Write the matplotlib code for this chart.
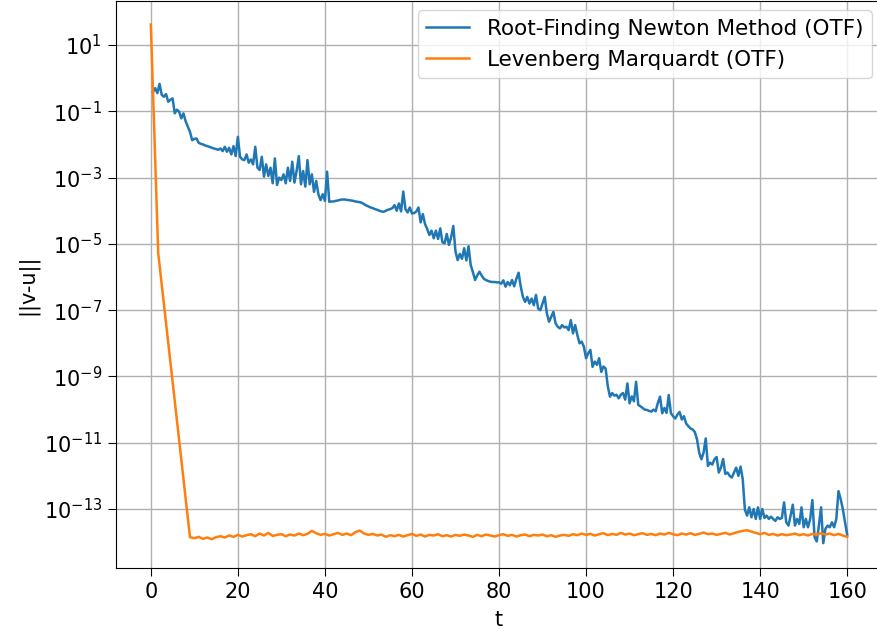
import numpy as np
import matplotlib
matplotlib.use("Agg")
import matplotlib.pyplot as plt
from matplotlib.ticker import NullLocator

# log10 ||v-u|| for the Newton run, sampled every 0.5 in t (t = 0.5 ... 160)
newton_log = [
    -0.42, -0.30, -0.45, -0.17, -0.50, -0.56, -0.48, -0.71, -0.65, -0.61,
    -1.06, -0.95, -1.01, -1.21, -1.06, -1.30, -1.46, -1.62, -1.87, -1.83,
    -1.82, -1.95, -1.98, -2.00, -2.03, -2.05, -2.07, -2.10, -2.12, -2.14,
    -2.16, -2.12, -2.20, -2.07, -2.22, -2.10, -2.30, -2.05, -2.35, -1.77,
    -2.37, -2.45, -2.47, -2.30, -2.55, -2.45, -2.60, -2.07, -2.70, -2.77,
    -2.37, -2.97, -2.60, -2.95, -2.70, -3.17, -2.42, -3.22, -3.00, -3.07,
    -2.90, -3.17, -2.70, -3.10, -2.52, -3.15, -2.80, -2.35, -3.20, -2.80,
    -3.27, -2.47, -3.20, -2.90, -3.43, -3.10, -3.50, -3.68, -3.50, -3.70,
    -2.82, -3.73, -3.72, -3.72, -3.70, -3.69, -3.67, -3.66, -3.66, -3.67,
    -3.68, -3.69, -3.70, -3.72, -3.73, -3.74, -3.76, -3.80, -3.84, -3.87,
    -3.90, -3.92, -3.95, -3.97, -4.00, -4.02, -4.03, -4.00, -3.97, -3.95,
    -3.92, -3.83, -4.00, -3.78, -4.02, -3.42, -3.95, -4.05, -3.90, -4.08,
    -4.07, -4.02, -3.90, -4.35, -4.10, -4.40, -4.55, -4.73, -4.60, -4.83,
    -4.60, -4.85, -4.53, -4.95, -4.98, -4.70, -5.03, -4.80, -4.46, -5.23,
    -5.49, -5.30, -5.45, -5.13, -5.50, -5.07, -5.64, -5.85, -6.09, -5.95,
    -5.84, -5.95, -6.05, -6.09, -6.12, -6.14, -6.15, -6.15, -6.16, -6.16,
    -6.20, -6.10, -6.29, -6.15, -6.25, -6.09, -6.28, -6.05, -5.87, -6.29,
    -6.60, -6.75, -6.60, -6.80, -6.65, -6.85, -6.54, -6.95, -7.00, -6.80,
    -6.60, -7.10, -7.35, -7.20, -7.05, -7.40, -7.50, -7.55, -7.45, -7.52,
    -7.50, -7.60, -7.30, -7.70, -7.45, -7.75, -8.00, -7.95, -8.10, -8.45,
    -8.30, -8.20, -8.71, -8.55, -8.65, -8.45, -8.86, -8.70, -8.76, -9.30,
    -9.61, -9.50, -9.58, -9.55, -9.66, -9.55, -9.50, -9.70, -9.21, -9.81,
    -9.60, -9.75, -9.16, -9.86, -9.90, -9.95, -10.00, -10.01, -10.04, -10.06,
    -10.00, -10.05, -9.80, -9.61, -10.11, -9.95, -10.10, -9.56, -10.11, -10.20,
    -10.27, -10.15, -10.07, -10.30, -10.20, -10.42, -10.50, -10.57, -10.60, -10.68,
    -10.90, -11.30, -11.50, -11.30, -10.87, -11.70, -11.60, -11.66, -11.50, -11.43,
    -11.90, -11.75, -11.49, -11.94, -11.90, -12.00, -12.05, -11.90, -11.75, -12.00,
    -11.72, -12.10, -13.02, -13.20, -12.95, -13.25, -13.00, -13.30, -12.95, -13.30,
    -13.00, -13.27, -13.20, -13.30, -13.23, -13.30, -13.36, -13.25, -13.30, -13.27,
    -12.80, -13.40, -13.50, -13.20, -12.87, -13.50, -13.30, -13.45, -12.95, -13.55,
    -13.30, -13.55, -13.30, -12.73, -13.84, -13.98, -13.50, -12.95, -14.03, -13.60,
    -13.50, -13.55, -13.40, -13.55, -13.30, -12.46, -12.70, -13.00, -13.40, -13.77,
]
newton_t = np.arange(1, len(newton_log) + 1) * 0.5

# Levenberg-Marquardt: fast initial drop, then a noisy floor sampled every 1 in t
lm_drop_t = [0.0, 1.7, 9.0]
lm_drop_log = [1.62, -5.28, -13.85]
lm_floor_log = [
    -13.88, -13.84, -13.90, -13.86, -13.91, -13.85, -13.82, -13.86, -13.80, -13.84,
    -13.78, -13.83, -13.79, -13.76, -13.82, -13.74, -13.80, -13.72, -13.81, -13.78,
    -13.76, -13.82, -13.77, -13.80, -13.74, -13.79, -13.75, -13.66, -13.73, -13.78,
    -13.75, -13.80, -13.76, -13.72, -13.78, -13.74, -13.79, -13.70, -13.65, -13.74,
    -13.78, -13.75, -13.80, -13.77, -13.84, -13.79, -13.82, -13.78, -13.83, -13.79,
    -13.75, -13.81, -13.77, -13.83, -13.78, -13.80, -13.76, -13.82, -13.79, -13.83,
    -13.78, -13.81, -13.77, -13.80, -13.84, -13.78, -13.82, -13.77, -13.80, -13.83,
    -13.79, -13.76, -13.81, -13.78, -13.83, -13.79, -13.77, -13.82, -13.78, -13.80,
    -13.77, -13.82, -13.79, -13.84, -13.80, -13.78, -13.81, -13.76, -13.79, -13.74,
    -13.78, -13.75, -13.80, -13.76, -13.73, -13.79, -13.75, -13.78, -13.72, -13.77,
    -13.74, -13.79, -13.76, -13.73, -13.78, -13.75, -13.79, -13.74, -13.77, -13.72,
    -13.76, -13.79, -13.74, -13.77, -13.73, -13.78, -13.75, -13.71, -13.76, -13.74,
    -13.78, -13.75, -13.72, -13.77, -13.73, -13.69, -13.66, -13.64, -13.68, -13.72,
    -13.76, -13.72, -13.78, -13.75, -13.80, -13.76, -13.79, -13.77, -13.74, -13.79,
    -13.76, -13.80, -13.75, -13.78, -13.73, -13.77, -13.74, -13.79, -13.75, -13.80,
    -13.84,
]
lm_floor_t = np.arange(10, 10 + len(lm_floor_log))

lm_t = np.concatenate([lm_drop_t, lm_floor_t])
lm_log = np.concatenate([lm_drop_log, lm_floor_log])

plt.rcParams['font.size'] = 15

fig = plt.figure(figsize=(8.77, 6.35), dpi=100)
# right spine sits just past the image edge, like the cropped original
ax = fig.add_axes([116 / 877, 67 / 635, 766 / 877, 567 / 635])

ax.plot(newton_t, 10.0 ** np.array(newton_log), color='tab:blue', linewidth=1.8,
        label='Root-Finding Newton Method (OTF)')
ax.plot(lm_t, 10.0 ** lm_log, color='tab:orange', linewidth=1.8,
        label='Levenberg Marquardt (OTF)')

ax.set_yscale('log')
ax.set_xlim(-8, 168)
ax.set_ylim(10 ** -14.78, 10 ** 2.33)
ax.set_yticks([10.0 ** k for k in range(1, -14, -2)])
ax.yaxis.set_minor_locator(NullLocator())
ax.set_xticks(range(0, 161, 20))
ax.tick_params(length=6, pad=4)

ax.set_xlabel('t', labelpad=6)
ax.set_ylabel('||v-u||', labelpad=4)
ax.grid(True, linewidth=1.0)
ax.legend(loc='upper right', bbox_to_anchor=(0.995, 0.995), borderaxespad=0.3,
          fontsize=15.5)

fig.savefig('out.png', dpi=100)
